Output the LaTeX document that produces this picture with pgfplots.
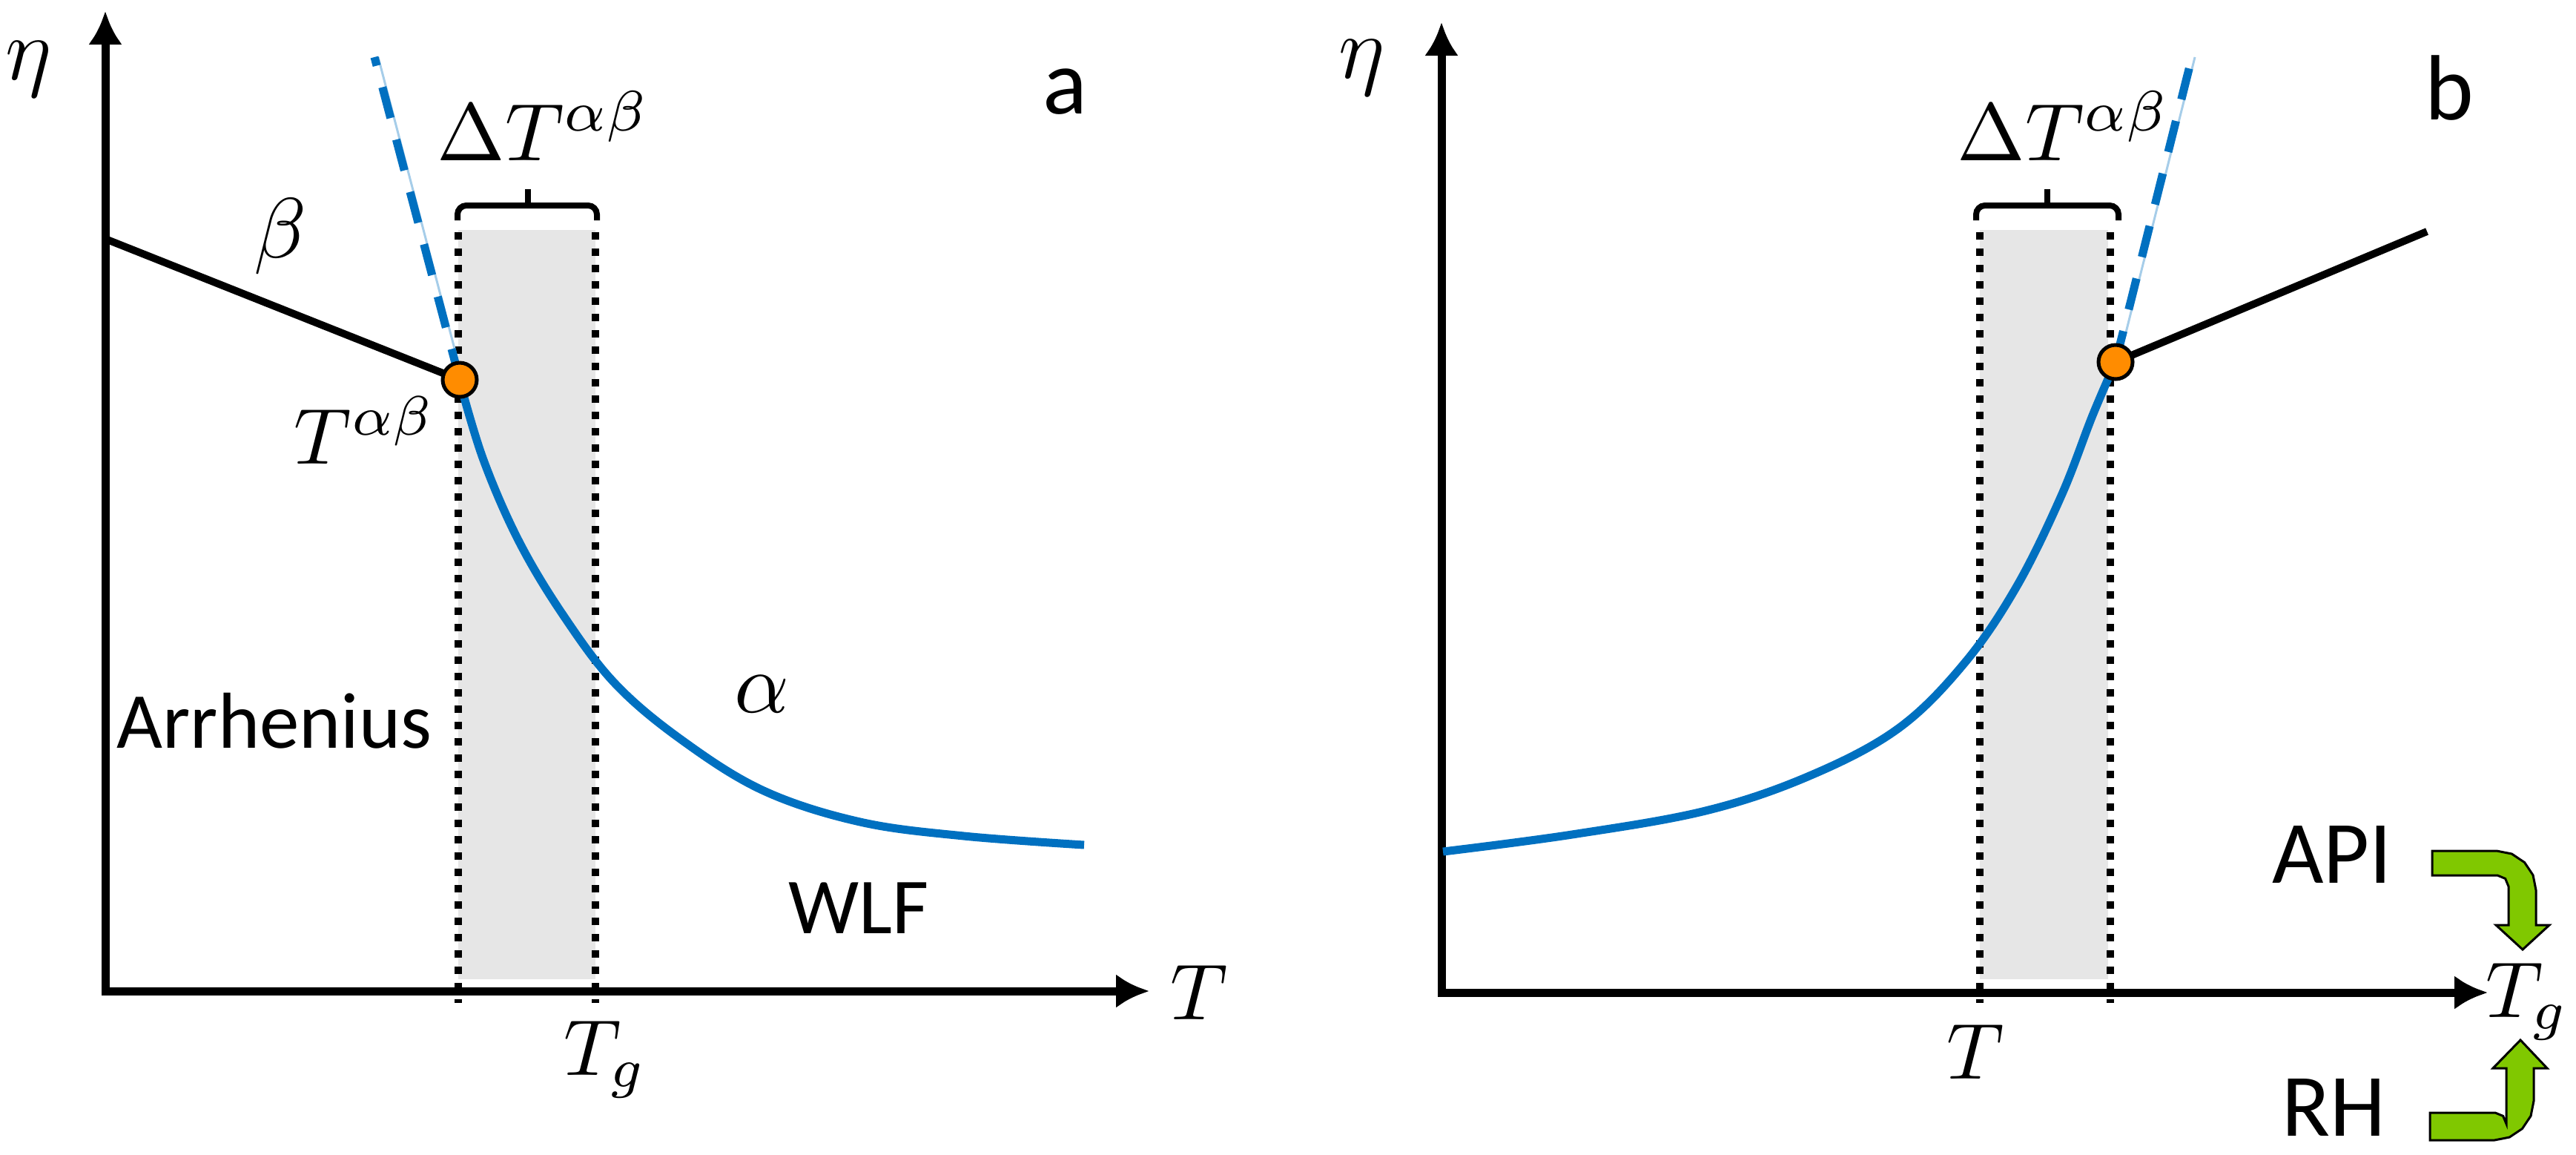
\RequirePackage{fix-cm}
\documentclass[border=0pt]{standalone}
\usepackage{fontspec}
\setmainfont{Carlito}
\usepackage{pgfplots}
\pgfplotsset{compat=1.18}
\usetikzlibrary{arrows.meta}
\definecolor{cblue}{RGB}{0,112,192}
\definecolor{corange}{RGB}{255,140,0}
\definecolor{cgreen}{RGB}{128,200,0}
\definecolor{cgray}{RGB}{230,230,230}
\begin{document}
\begin{tikzpicture}
\begin{axis}[width=347.4pt,height=155.6pt,scale only axis,
  xmin=0,xmax=3474,ymin=0,ymax=1556,y dir=reverse,hide axis,clip=false]
% shaded bands
\addplot[fill=cgray,draw=none] coordinates {(618,310)(803,310)(803,1320)(618,1320)} -- cycle;
\addplot[fill=cgray,draw=none] coordinates {(2670,310)(2843,310)(2843,1320)(2670,1320)} -- cycle;
% dotted verticals
\addplot[black,line width=1pt,dash pattern=on 1pt off 1.2pt] coordinates {(618,313)(618,1352)};
\addplot[black,line width=1pt,dash pattern=on 1pt off 1.2pt] coordinates {(803,313)(803,1352)};
\addplot[black,line width=1pt,dash pattern=on 1pt off 1.2pt] coordinates {(2670,313)(2670,1352)};
\addplot[black,line width=1pt,dash pattern=on 1pt off 1.2pt] coordinates {(2846,313)(2846,1352)};
% axes
\addplot[black,line width=1.1pt,line join=miter,arrows={Latex[length=4.5pt,width=4.6pt]-Latex[length=4.5pt,width=4.6pt]}] coordinates {(142,15)(142,1336)(1550,1336)};
\addplot[black,line width=1.1pt,line join=miter,arrows={Latex[length=4.5pt,width=4.6pt]-Latex[length=4.5pt,width=4.6pt]}] coordinates {(1944,30)(1944,1338)(3355,1338)};
% braces
\addplot[black,line width=0.8pt,rounded corners=1.2pt] coordinates {(617,297)(617,277)(805,277)(805,297)};
\addplot[black,line width=0.8pt] coordinates {(712,277)(712,255)};
\addplot[black,line width=0.8pt,rounded corners=1.2pt] coordinates {(2665,297)(2665,277)(2857,277)(2857,297)};
\addplot[black,line width=0.8pt] coordinates {(2761,277)(2761,255)};
% dashed extrapolations
\addplot[cblue!35,line width=0.3pt] coordinates {(624,512)(510,77)};
\addplot[cblue,line width=1.1pt,dash pattern=on 4.3pt off 3pt] coordinates {(620,512)(505,77)};
\addplot[cblue!35,line width=0.3pt] coordinates {(2857,488)(2960,77)};
\addplot[cblue,line width=1.1pt,dash pattern=on 4.3pt off 3pt] coordinates {(2853,488)(2956,77)};
% alpha curves
\addplot[cblue,line width=1.1pt,smooth,tension=0.6] coordinates {(620,514)(652,620)(700,730)(760,830)(830,922)(920,998)(1030,1066)(1160,1108)(1300,1127)(1462,1139)};
\addplot[cblue,line width=1.1pt,smooth,tension=0.6] coordinates {(1946,1148)(2120,1125)(2300,1093)(2440,1046)(2560,982)(2650,893)(2720,790)(2780,668)(2822,560)(2853,488)};
% beta lines
\addplot[black,line width=1.0pt] coordinates {(142,322)(620,512)};
\addplot[black,line width=1.0pt] coordinates {(2853,488)(3273,312)};
% crossover points
\addplot[only marks,mark=*,mark size=2.3pt,mark options={fill=corange,draw=black,line width=0.5pt}] coordinates {(620,512)(2853,488)};
% green arrows
\addplot[fill=cgreen,draw=black,line width=0.3pt] coordinates {(3280,1147)(3367,1147)(3387.3,1151)(3404.5,1162.5)(3416,1179.7)(3420,1200)(3420,1247)(3438,1247)(3402,1280)(3366,1247)(3383,1247)(3383,1195)(3378.6,1184.4)(3368,1180)(3280,1180)} -- cycle;
\addplot[fill=cgreen,draw=black,line width=0.3pt] coordinates {(3277,1537)(3364,1537)(3384.3,1533)(3401.5,1521.5)(3413,1504.3)(3417,1484)(3417,1440)(3435,1440)(3399,1402)(3362,1440)(3380,1440)(3380,1515)(3375.6,1504.4)(3365,1500)(3277,1500)} -- cycle;
% labels panel a
\node[inner sep=0] at (axis cs:39,93) {\fontsize{12}{14}\selectfont$\eta$};
\node[inner sep=0] at (axis cs:1436,124) {\fontsize{12.5}{15}\selectfont a};
\node[inner sep=0] at (axis cs:733,170) {\fontsize{11}{13}\selectfont$\Delta T^{\alpha\beta}$};
\node[inner sep=0] at (axis cs:378,319) {\fontsize{11.5}{13}\selectfont$\beta$};
\node[inner sep=0] at (axis cs:492,580) {\fontsize{10.7}{12}\selectfont$T^{\alpha\beta}$};
\node[inner sep=0] at (axis cs:1027,936) {\fontsize{11.5}{13}\selectfont$\alpha$};
\node[inner sep=0] at (axis cs:370,972) {\fontsize{10.7}{12}\selectfont Arrhenius};
\node[inner sep=0] at (axis cs:1158,1224) {\fontsize{10.7}{12}\selectfont WLF};
\node[inner sep=0] at (axis cs:816,1428) {\fontsize{10.7}{12}\selectfont$T_g$};
\node[inner sep=0] at (axis cs:1617,1338) {\fontsize{10.7}{12}\selectfont$T$};
% labels panel b
\node[inner sep=0] at (axis cs:1837,91) {\fontsize{12}{14}\selectfont$\eta$};
\node[inner sep=0] at (axis cs:3303,119) {\fontsize{12.5}{15}\selectfont b};
\node[inner sep=0] at (axis cs:2783,170) {\fontsize{11}{13}\selectfont$\Delta T^{\alpha\beta}$};
\node[inner sep=0] at (axis cs:2664,1418) {\fontsize{10.7}{12}\selectfont$T$};
\node[inner sep=0] at (axis cs:3408,1350) {\fontsize{10.7}{12}\selectfont$T_g$};
\node[inner sep=0] at (axis cs:3145,1152) {\fontsize{12}{14}\selectfont API};
\node[inner sep=0] at (axis cs:3147,1493) {\fontsize{12}{14}\selectfont RH};
\path (rel axis cs:0,0) rectangle (rel axis cs:1,1);
\end{axis}
\end{tikzpicture}
\end{document}
